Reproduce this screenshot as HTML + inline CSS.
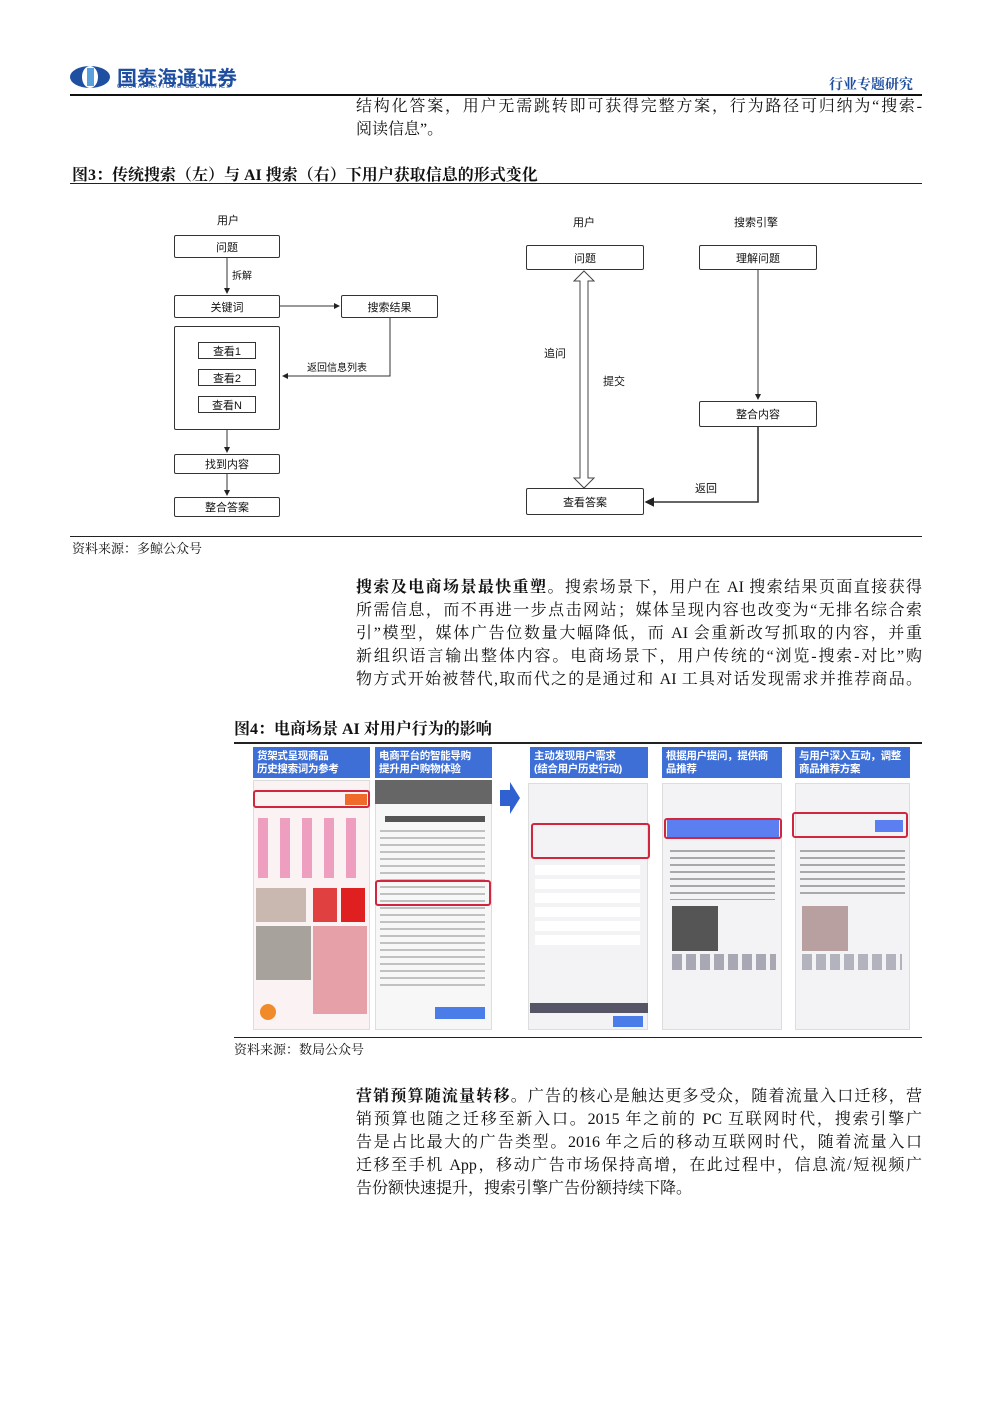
<!DOCTYPE html>
<html><head><meta charset="utf-8"><style>
*{margin:0;padding:0;box-sizing:border-box}
body{width:992px;height:1403px;background:#fff;position:relative;font-family:"Liberation Serif","Noto Serif CJK SC",serif;color:#111;overflow:hidden}
.a{position:absolute}
.ln{position:absolute;left:356px;width:566px;font-size:16px;line-height:20px;text-align:justify;text-align-last:justify;white-space:nowrap}
.cap{position:absolute;font-size:16px;font-weight:bold;font-family:"Liberation Serif","Noto Serif CJK SC",serif}
.hr{position:absolute;height:1px;background:#222}
.bx{position:absolute;border:1px solid #333;border-radius:2px;font-family:"Liberation Sans","Noto Sans CJK SC",sans-serif;font-size:11px;display:flex;align-items:center;justify-content:center;background:#fff}
.lb{position:absolute;font-family:"Liberation Sans","Noto Sans CJK SC",sans-serif;font-size:11px}
.ph{position:absolute;background:#f3f3f5;border:1px solid #ddd}
.hd{position:absolute;background:#3e6fd6;color:#fff;font-family:"Liberation Sans","Noto Sans CJK SC",sans-serif;font-size:10.5px;font-weight:bold;line-height:13px;padding:3px 4px;white-space:nowrap;letter-spacing:-0.3px;overflow:hidden}
.red{position:absolute;border:2px solid #d0263e;border-radius:3px}
</style></head><body>
<!-- header -->
<div class="a" style="left:70px;top:66px;width:40px;height:22px;border-radius:50%;background:#1f4fa0"></div>
<div class="a" style="left:82px;top:66px;width:16px;height:22px;background:#fff;border-radius:50%"></div>
<div class="a" style="left:87px;top:68px;width:7px;height:18px;background:#5aa0dc"></div>
<div class="a" style="left:117px;top:62px;font-family:'Liberation Sans','Noto Sans CJK SC',sans-serif;font-weight:bold;font-size:20px;color:#1f4fa0">国泰海通证券</div>
<div class="a" style="left:117px;top:84px;font-family:'Liberation Sans',sans-serif;font-size:6px;color:#1f4fa0;letter-spacing:1px">GUOTAI HAITONG SECURITIES</div>
<div class="a" style="left:829px;top:74px;font-size:14px;font-weight:bold;color:#1f4fa0">行业专题研究</div>
<div class="hr" style="left:70px;top:94px;width:852px;height:2px;background:#111"></div>

<div class="ln" style="top:97px">结构化答案，用户无需跳转即可获得完整方案，行为路径可归纳为“搜索-</div>
<div class="ln" style="top:120px;text-align-last:left">阅读信息”。</div>

<div class="cap" style="left:72px;top:162px">图3：传统搜索（左）与 AI 搜索（右）下用户获取信息的形式变化</div>
<div class="hr" style="left:70px;top:183px;width:852px"></div>

<svg class="a" style="left:0;top:0" width="992" height="560">
<defs><marker id="ar" markerWidth="6" markerHeight="6" refX="5" refY="3" orient="auto"><path d="M0,0 L6,3 L0,6 z" fill="#222"/></marker></defs>
<g stroke="#333" stroke-width="1" fill="none">
<line x1="227" y1="257" x2="227" y2="293" marker-end="url(#ar)"/>
<line x1="280" y1="306" x2="339" y2="306" marker-end="url(#ar)"/>
<polyline points="390,318 390,376 283,376" marker-end="url(#ar)"/>
<line x1="227" y1="430" x2="227" y2="452" marker-end="url(#ar)"/>
<line x1="227" y1="474" x2="227" y2="495" marker-end="url(#ar)"/>
<line x1="758" y1="270" x2="758" y2="399" marker-end="url(#ar)"/>
<polyline points="758,427 758,502 646,502" stroke-width="1.6" marker-end="url(#ar)"/>
<path d="M584,271 L594,281 L588,281 L588,478 L594,478 L584,488 L574,478 L580,478 L580,281 L574,281 Z" stroke="#444"/>
</g>
</svg>
<div class="lb" style="left:217px;top:212px">用户</div>
<div class="bx" style="left:174px;top:235px;width:106px;height:23px">问题</div>
<div class="lb" style="left:232px;top:267px;font-size:10px">拆解</div>
<div class="bx" style="left:174px;top:295px;width:106px;height:23px">关键词</div>
<div class="bx" style="left:341px;top:295px;width:97px;height:23px">搜索结果</div>
<div class="bx" style="left:174px;top:326px;width:106px;height:104px"></div>
<div class="bx" style="left:198px;top:342px;width:58px;height:17px;border-radius:0">查看1</div>
<div class="bx" style="left:198px;top:369px;width:58px;height:17px;border-radius:0">查看2</div>
<div class="bx" style="left:198px;top:396px;width:58px;height:17px;border-radius:0">查看N</div>
<div class="lb" style="left:307px;top:359px;font-size:10px">返回信息列表</div>
<div class="bx" style="left:174px;top:454px;width:106px;height:20px">找到内容</div>
<div class="bx" style="left:174px;top:497px;width:106px;height:20px">整合答案</div>

<div class="lb" style="left:573px;top:214px">用户</div>
<div class="lb" style="left:734px;top:214px">搜索引擎</div>
<div class="bx" style="left:526px;top:245px;width:118px;height:25px">问题</div>
<div class="bx" style="left:699px;top:245px;width:118px;height:25px">理解问题</div>
<div class="bx" style="left:699px;top:401px;width:118px;height:26px">整合内容</div>
<div class="bx" style="left:526px;top:488px;width:118px;height:27px">查看答案</div>
<div class="lb" style="left:544px;top:345px">追问</div>
<div class="lb" style="left:603px;top:373px">提交</div>
<div class="lb" style="left:695px;top:480px">返回</div>

<div class="hr" style="left:70px;top:536px;width:852px"></div>
<div class="a" style="left:72px;top:538px;font-size:13px">资料来源：多鲸公众号</div>

<div class="ln" style="top:578px"><b>搜索及电商场景最快重塑</b>。搜索场景下，用户在 AI 搜索结果页面直接获得</div>
<div class="ln" style="top:601px">所需信息，而不再进一步点击网站；媒体呈现内容也改变为“无排名综合索</div>
<div class="ln" style="top:624px">引”模型，媒体广告位数量大幅降低，而 AI 会重新改写抓取的内容，并重</div>
<div class="ln" style="top:647px">新组织语言输出整体内容。电商场景下，用户传统的“浏览-搜索-对比”购</div>
<div class="ln" style="top:670px">物方式开始被替代,取而代之的是通过和 AI 工具对话发现需求并推荐商品。</div>

<div class="cap" style="left:234px;top:716px">图4：电商场景 AI 对用户行为的影响</div>
<div class="hr" style="left:234px;top:742px;width:688px;height:2px"></div>

<div class="ph" style="left:253px;top:780px;width:117px;height:250px;background:#fbf3f3"></div>
<div class="ph" style="left:375px;top:780px;width:117px;height:250px;background:#f7f7f7"></div>
<div class="a" style="left:375px;top:780px;width:117px;height:24px;background:#666"></div>
<div class="ph" style="left:528px;top:783px;width:120px;height:247px"></div>
<div class="ph" style="left:662px;top:783px;width:120px;height:247px"></div>
<div class="ph" style="left:795px;top:783px;width:115px;height:247px"></div>
<div class="hd" style="left:253px;top:747px;width:117px;height:31px">货架式呈现商品<br>历史搜索词为参考</div>
<div class="hd" style="left:375px;top:747px;width:117px;height:31px">电商平台的智能导购<br>提升用户购物体验</div>
<div class="hd" style="left:530px;top:747px;width:118px;height:31px">主动发现用户需求<br>(结合用户历史行动)</div>
<div class="hd" style="left:662px;top:747px;width:120px;height:31px">根据用户提问，提供商<br>品推荐</div>
<div class="hd" style="left:795px;top:747px;width:115px;height:31px">与用户深入互动，调整<br>商品推荐方案</div>
<svg class="a" style="left:498px;top:782px" width="24" height="34"><path d="M2,8 L12,8 L12,0 L22,16 L12,32 L12,24 L2,24 Z" fill="#2f62d0"/></svg>
<div class="red" style="left:253px;top:790px;width:117px;height:18px"></div>
<div class="a" style="left:345px;top:794px;width:22px;height:11px;background:#f06a2a"></div>
<div class="a" style="left:258px;top:818px;width:108px;height:60px;background:repeating-linear-gradient(90deg,#e04a8a 0 10px,transparent 10px 22px);opacity:.5"></div>
<div class="a" style="left:256px;top:888px;width:50px;height:34px;background:#c9b8b0"></div>
<div class="a" style="left:313px;top:888px;width:24px;height:34px;background:#e04040"></div>
<div class="a" style="left:341px;top:888px;width:24px;height:34px;background:#e02020"></div>
<div class="a" style="left:256px;top:926px;width:55px;height:54px;background:#a8a29c"></div>
<div class="a" style="left:313px;top:926px;width:54px;height:88px;background:#e6a0a8"></div>
<div class="a" style="left:260px;top:1004px;width:16px;height:16px;border-radius:50%;background:#f08a2a"></div>
<div class="a" style="left:385px;top:816px;width:100px;height:6px;background:#555"></div>
<div class="a" style="left:380px;top:830px;width:105px;height:160px;background:repeating-linear-gradient(180deg,#aaa 0 2px,transparent 2px 7px);opacity:.7"></div>
<div class="red" style="left:375px;top:880px;width:116px;height:26px"></div>
<div class="a" style="left:435px;top:1007px;width:50px;height:12px;background:#4a7de8"></div>
<div class="red" style="left:531px;top:823px;width:119px;height:36px"></div>
<div class="a" style="left:535px;top:865px;width:105px;height:80px;background:repeating-linear-gradient(180deg,#fff 0 10px,#f3f3f5 10px 14px)"></div>
<div class="a" style="left:530px;top:1003px;width:118px;height:10px;background:#556"></div>
<div class="a" style="left:613px;top:1016px;width:30px;height:11px;background:#4a7de8"></div>
<div class="red" style="left:664px;top:818px;width:118px;height:21px"></div>
<div class="a" style="left:667px;top:820px;width:112px;height:17px;background:#5b7ff0"></div>
<div class="a" style="left:670px;top:850px;width:105px;height:50px;background:repeating-linear-gradient(180deg,#888 0 2px,transparent 2px 7px);opacity:.7"></div>
<div class="a" style="left:672px;top:906px;width:46px;height:45px;background:#555"></div>
<div class="a" style="left:672px;top:954px;width:104px;height:16px;background:repeating-linear-gradient(90deg,#778 0 10px,transparent 10px 14px);opacity:.6"></div>
<div class="red" style="left:792px;top:812px;width:116px;height:26px"></div>
<div class="a" style="left:875px;top:820px;width:28px;height:12px;background:#5b7ff0"></div>
<div class="a" style="left:800px;top:850px;width:105px;height:45px;background:repeating-linear-gradient(180deg,#888 0 2px,transparent 2px 7px);opacity:.7"></div>
<div class="a" style="left:802px;top:906px;width:46px;height:45px;background:#b9a0a0"></div>
<div class="a" style="left:802px;top:954px;width:100px;height:16px;background:repeating-linear-gradient(90deg,#889 0 10px,transparent 10px 14px);opacity:.6"></div>

<div class="hr" style="left:234px;top:1037px;width:688px;height:1px"></div>
<div class="a" style="left:234px;top:1039px;font-size:13px">资料来源：数局公众号</div>

<div class="ln" style="top:1087px"><b>营销预算随流量转移</b>。广告的核心是触达更多受众，随着流量入口迁移，营</div>
<div class="ln" style="top:1110px">销预算也随之迁移至新入口。2015 年之前的 PC 互联网时代，搜索引擎广</div>
<div class="ln" style="top:1133px">告是占比最大的广告类型。2016 年之后的移动互联网时代，随着流量入口</div>
<div class="ln" style="top:1156px">迁移至手机 App，移动广告市场保持高增，在此过程中，信息流/短视频广</div>
<div class="ln" style="top:1179px;text-align-last:left">告份额快速提升，搜索引擎广告份额持续下降。</div>
</body></html>
